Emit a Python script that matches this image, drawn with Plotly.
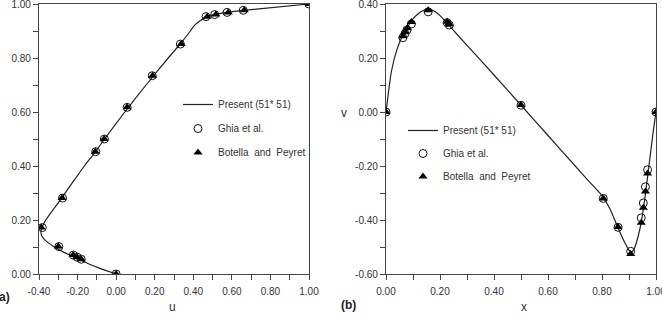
import plotly.graph_objects as go

# ---------------- Data ----------------
# (a) u-velocity along vertical centreline
ghia_y = [1.0000, 0.9766, 0.9688, 0.9609, 0.9531, 0.8516, 0.7344, 0.6172, 0.5000,
          0.4531, 0.2813, 0.1719, 0.1016, 0.0703, 0.0625, 0.0547, 0.0000]
ghia_u = [1.0, 0.659, 0.575, 0.511, 0.466, 0.333, 0.187, 0.057, -0.061,
          -0.106, -0.278, -0.383, -0.297, -0.222, -0.202, -0.181, 0.0]
bp_u = [1.0, 0.664, 0.581, 0.517, 0.472, 0.337, 0.189, 0.057, -0.062,
        -0.108, -0.280, -0.389, -0.300, -0.223, -0.202, -0.181, 0.0]

present_y = [0.0, 0.02, 0.04, 0.06, 0.08, 0.10, 0.12, 0.14, 0.16, 0.18, 0.20, 0.24,
             0.28, 0.32, 0.36, 0.40, 0.45, 0.50, 0.60, 0.70, 0.80, 0.85, 0.90, 0.92,
             0.935, 0.9531, 0.9609, 0.9688, 0.9766, 1.0]
present_u = [0.0, -0.08, -0.15, -0.21, -0.27, -0.32, -0.36, -0.385, -0.39, -0.38, -0.365, -0.325,
             -0.283, -0.245, -0.205, -0.165, -0.11, -0.06, 0.045, 0.155, 0.27, 0.33, 0.385, 0.405,
             0.43, 0.47, 0.51, 0.575, 0.66, 1.0]

# (b) v-velocity along horizontal centreline
ghia_x = [1.0000, 0.9688, 0.9609, 0.9531, 0.9453, 0.9063, 0.8594, 0.8047, 0.5000,
          0.2344, 0.2266, 0.1563, 0.0938, 0.0781, 0.0703, 0.0625, 0.0000]
ghia_v = [0.0, -0.214, -0.277, -0.337, -0.392, -0.516, -0.427, -0.320, 0.025,
          0.322, 0.331, 0.371, 0.326, 0.304, 0.290, 0.275, 0.0]
bp_v = [0.0, -0.228, -0.294, -0.355, -0.410, -0.526, -0.426, -0.320, 0.026,
        0.325, 0.334, 0.377, 0.333, 0.310, 0.296, 0.281, 0.0]

present_x = [0.0, 0.01, 0.02, 0.04, 0.06, 0.08, 0.10, 0.12, 0.14, 0.16, 0.18, 0.20,
             0.22, 0.25, 0.30, 0.40, 0.50, 0.60, 0.70, 0.75, 0.80, 0.83, 0.86, 0.88,
             0.90, 0.91, 0.92, 0.93, 0.94, 0.95, 0.96, 0.97, 0.98, 0.99, 1.0]
present_v = [0.0, 0.08, 0.15, 0.23, 0.28, 0.315, 0.345, 0.365, 0.377, 0.38, 0.373, 0.357,
             0.336, 0.302, 0.247, 0.137, 0.025, -0.087, -0.199, -0.255, -0.31, -0.36, -0.43, -0.475,
             -0.512, -0.518, -0.505, -0.475, -0.435, -0.38, -0.31, -0.23, -0.15, -0.07, 0.0]

# tick values / labels (every 0.1; unlabeled minor positions)
u_ticks = [-0.4, -0.3, -0.2, -0.1, 0.0, 0.1, 0.2, 0.3, 0.4, 0.5, 0.6, 0.7, 0.8, 0.9, 1.0]
u_labels = ["-0.40", "", "-0.20", "", "0.00", "", "0.20", "", "0.40", "", "0.60", "", "0.80", "", "1.00"]
y_ticks = [0.0, 0.1, 0.2, 0.3, 0.4, 0.5, 0.6, 0.7, 0.8, 0.9, 1.0]
y_labels = ["0.00", "", "0.20", "", "0.40", "", "0.60", "", "0.80", "", "1.00"]
x_ticks = [0.0, 0.1, 0.2, 0.3, 0.4, 0.5, 0.6, 0.7, 0.8, 0.9, 1.0]
x_labels = ["0.00", "", "0.20", "", "0.40", "", "0.60", "", "0.80", "", "1.00"]
v_ticks = [-0.6, -0.5, -0.4, -0.3, -0.2, -0.1, 0.0, 0.1, 0.2, 0.3, 0.4]
v_labels = ["-0.60", "", "-0.40", "", "-0.20", "", "0.00", "", "0.20", "", "0.40"]

legend_names = ["Present (51* 51)", "Ghia et al.", "Botella  and  Peyret"]

FONT = "Liberation Sans, Arial, sans-serif"
AX = "#444444"
TXT = "#333333"

fig = go.Figure()

def add_panel(xs_line, ys_line, xs_g, ys_g, xs_b, ys_b, xa, ya, leg):
    fig.add_trace(go.Scatter(x=xs_line, y=ys_line, mode="lines", name=legend_names[0],
                             line=dict(color="#222222", width=1.2, shape="spline", smoothing=0.6),
                             xaxis=xa, yaxis=ya, legend=leg, legendgroup=leg + "a"))
    fig.add_trace(go.Scatter(x=xs_g, y=ys_g, mode="markers", name=legend_names[1],
                             marker=dict(symbol="circle-open", size=8, color="#111111",
                                         line=dict(width=1, color="#111111")),
                             xaxis=xa, yaxis=ya, legend=leg, legendgroup=leg + "b"))
    fig.add_trace(go.Scatter(x=xs_b, y=ys_b, mode="markers", name=legend_names[2],
                             marker=dict(symbol="triangle-up", size=8, color="#000000"),
                             xaxis=xa, yaxis=ya, legend=leg, legendgroup=leg + "c"))

add_panel(present_u, present_y, ghia_u, ghia_y, bp_u, ghia_y, "x", "y", "legend")
add_panel(present_x, present_v, ghia_x, ghia_v, ghia_x, bp_v, "x2", "y2", "legend2")

W, H = 662, 316
def px(v): return v / W
def py(v): return 1 - v / H

common_axis = dict(showgrid=False, zeroline=False, showline=True, linecolor=AX, linewidth=1.3,
                   mirror=True, ticks="outside", ticklen=5, tickwidth=1, tickcolor=AX,
                   tickmode="array", ticklabeloverflow="allow", automargin=False,
                   tickfont=dict(family=FONT, size=10, color=TXT))

fig.update_layout(
    template="none",
    width=W, height=H, margin=dict(l=0, r=0, t=0, b=0, autoexpand=False),
    paper_bgcolor="white", plot_bgcolor="white",
    font=dict(family=FONT, size=10, color=TXT),
    xaxis=dict(common_axis, domain=[px(39), px(309)], range=[-0.4, 1.0],
               tickvals=u_ticks, ticktext=u_labels, ticklabelstandoff=3, anchor="y"),
    yaxis=dict(common_axis, domain=[py(274), py(4)], range=[0, 1.0],
               tickvals=y_ticks, ticktext=y_labels, anchor="x"),
    xaxis2=dict(common_axis, domain=[px(386), px(656)], range=[0, 1.0],
                tickvals=x_ticks, ticktext=x_labels, ticklabelstandoff=3, anchor="y2"),
    yaxis2=dict(common_axis, domain=[py(274), py(4)], range=[-0.6, 0.4],
                tickvals=v_ticks, ticktext=v_labels, anchor="x2"),
    legend=dict(x=px(178), y=py(90), xanchor="left", yanchor="top", bgcolor="rgba(0,0,0,0)",
                font=dict(family=FONT, size=10, color=TXT), tracegroupgap=5, itemwidth=30),
    legend2=dict(x=px(403), y=py(116), xanchor="left", yanchor="top", bgcolor="rgba(0,0,0,0)",
                 font=dict(family=FONT, size=10, color=TXT), tracegroupgap=4, itemwidth=30),
    annotations=[
        dict(text="u", x=px(172), y=py(307), xref="paper", yref="paper", showarrow=False,
             xanchor="center", yanchor="middle", font=dict(size=12, color=TXT)),
        dict(text="x", x=px(524), y=py(307), xref="paper", yref="paper", showarrow=False,
             xanchor="center", yanchor="middle", font=dict(size=12, color=TXT)),
        dict(text="v", x=px(344), y=py(113), xref="paper", yref="paper", showarrow=False,
             xanchor="center", yanchor="middle", font=dict(size=12, color=TXT)),
        dict(text="y", x=px(-4), y=py(134), xref="paper", yref="paper", showarrow=False,
             xanchor="center", yanchor="middle", font=dict(size=12, color=TXT)),
        dict(text="<b>(a)</b>", x=px(-7), y=py(297), xref="paper", yref="paper", showarrow=False,
             xanchor="left", yanchor="middle", font=dict(size=12, color="#222222")),
        dict(text="<b>(b)</b>", x=px(339), y=py(305), xref="paper", yref="paper", showarrow=False,
             xanchor="left", yanchor="middle", font=dict(size=12, color="#222222")),
    ],
)

fig.write_html("out.html")
